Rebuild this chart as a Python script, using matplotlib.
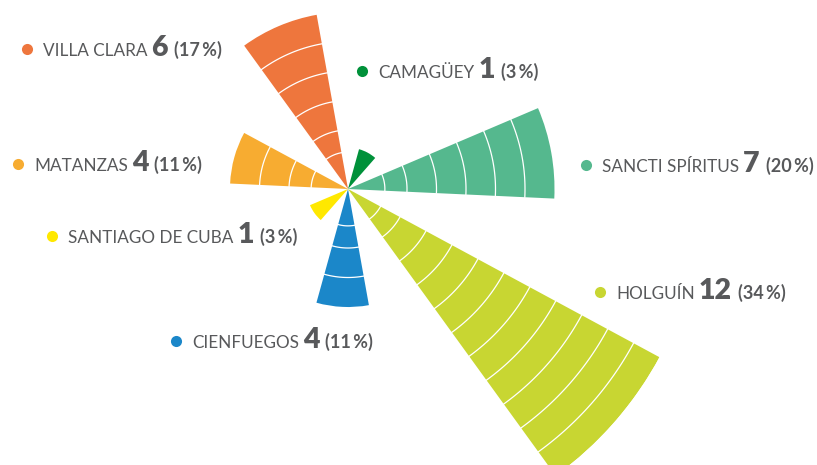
import matplotlib.pyplot as plt
import numpy as np

plt.rcParams['font.family'] = ['Lato', 'DejaVu Sans']

provincias = ['SANCTI SPÍRITUS', 'CAMAGÜEY', 'VILLA CLARA', 'MATANZAS',
              'SANTIAGO DE CUBA', 'CIENFUEGOS', 'HOLGUÍN']
valores = [7, 1, 6, 4, 1, 4, 12]
colores = ['#55b88e', '#00913a', '#ee763d', '#f7ac31',
           '#ffe800', '#1b87c9', '#c8d632']

# posicion del punto de cada etiqueta (pixeles, origen arriba a la izquierda)
etiquetas_xy = [(586, 165), (362, 71), (27, 49), (18, 164),
                (52, 236), (176, 341), (600, 292)]

W, H = 817, 465
cx, cy = 348, 189     # centro de la rosa
unidad = 29.5         # pixeles por caso
rmax = 12

fig = plt.figure(figsize=(W / 100, H / 100), dpi=100)
R = rmax * unidad
ax = fig.add_axes([(cx - R) / W, (H - cy - R) / H, 2 * R / W, 2 * R / H],
                  projection='polar')
ax.set_ylim(0, rmax)
ax.axis('off')

n = len(valores)
paso = 2 * np.pi / n
ancho = paso / 2
theta = np.deg2rad(10.2) + paso * np.arange(n)

# los de 1 caso se dibujan un poco mas largos para que se vean
alto = [max(v, 1.4) for v in valores]
ax.bar(theta, alto, width=ancho, color=colores, linewidth=0)

for t, v in zip(theta, valores):
    arco = np.linspace(t - ancho / 2, t + ancho / 2, 60)
    for k in range(1, v):
        r = 1.25 if k == 1 else k
        ax.plot(arco, np.full_like(arco, r), color='white', lw=0.9)

# etiquetas
ax2 = fig.add_axes([0, 0, 1, 1])
ax2.set_xlim(0, W)
ax2.set_ylim(H, 0)
ax2.axis('off')
ax2.patch.set_alpha(0)

gris = '#58595b'
total = sum(valores)
fig.canvas.draw()
rend = fig.canvas.get_renderer()

for nombre, v, c, (x, y) in zip(provincias, valores, colores, etiquetas_xy):
    ax2.plot(x, y, 'o', ms=8, color=c, mec='none')
    yb = y + 6.5
    t1 = ax2.text(x + 16, yb, nombre, fontsize=12.3, color=gris, va='baseline')
    x1 = t1.get_window_extent(rend).x1
    t2 = ax2.text(x1 + 4, yb, str(v), fontsize=20.5, fontweight='heavy',
                  color=gris, va='baseline')
    x2 = t2.get_window_extent(rend).x1
    pct = round(100 * v / total)
    ax2.text(x2 + 6, yb, f'({pct}\u2009%)', fontsize=13, fontweight='bold',
             color=gris, va='baseline')

fig.savefig('out.png', dpi=100)
